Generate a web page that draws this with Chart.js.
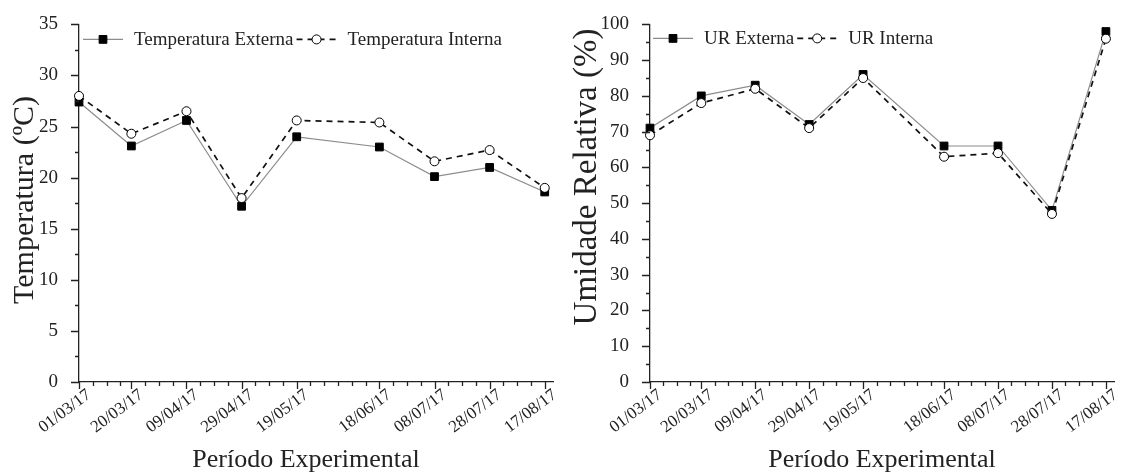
<!DOCTYPE html>
<html>
<head>
<meta charset="utf-8">
<script src="https://cdn.jsdelivr.net/npm/chart.js@4.4.0/dist/chart.umd.min.js"></script>
<style>
    body { margin: 0; background: #fff; width: 1122px; height: 472px; overflow: hidden; display: flex; }
    .painel { width: 561px; height: 472px; }
</style>
</head>
<body>
<div class="painel"><canvas id="graficoTemp" width="561" height="472"></canvas></div>
<div class="painel"><canvas id="graficoUR" width="561" height="472"></canvas></div>
<script>
// datas de coleta e dias contados a partir de 01/03/17
const datas = ['01/03/17', '20/03/17', '09/04/17', '29/04/17', '19/05/17', '18/06/17', '08/07/17', '28/07/17', '17/08/17'];
const dias = [0, 19, 39, 59, 79, 109, 129, 149, 169];

const tempExterna = [27.4, 23.1, 25.6, 17.2, 24.0, 23.0, 20.1, 21.0, 18.6];
const tempInterna = [28.0, 24.3, 26.5, 18.0, 25.6, 25.4, 21.6, 22.7, 19.0];

const urExterna = [71, 80, 83, 72, 86, 66, 66, 48, 98];
const urInterna = [69, 78, 82, 71, 85, 63, 64, 47, 96];

const fonteSerif = "'Liberation Serif', 'Times New Roman', serif";
Chart.defaults.font.family = fonteSerif;
Chart.defaults.color = '#222';

const corEixo = '#222';

// marcas menores do eixo x: a cada 5 dias entre duas coletas
const marcasMenoresX = [];
for (let i = 0; i < dias.length - 1; i++) {
    for (let d = dias[i] + 5; d < dias[i + 1]; d += 5) marcasMenoresX.push(d);
}

// desenha as marcas (maiores e menores) para fora dos eixos
const marcasEixos = {
    id: 'marcasEixos',
    afterDraw(chart) {
        const { ctx, scales: { x, y } } = chart;
        ctx.save();
        ctx.strokeStyle = corEixo;
        ctx.lineWidth = 1.3;
        ctx.beginPath();
        const base = y.getPixelForValue(y.min);
        dias.forEach(d => {
            const px = Math.round(x.getPixelForValue(d)) + 0.5;
            ctx.moveTo(px, base); ctx.lineTo(px, base + 7);
        });
        marcasMenoresX.forEach(d => {
            const px = Math.round(x.getPixelForValue(d)) + 0.5;
            ctx.moveTo(px, base); ctx.lineTo(px, base + 4);
        });
        const esq = x.left;
        const valores = y.ticks.map(t => t.value);
        valores.forEach((v, i) => {
            const py = Math.round(y.getPixelForValue(v)) + 0.5;
            ctx.moveTo(esq, py); ctx.lineTo(esq - 8, py);
            if (i < valores.length - 1) {
                const pm = Math.round(y.getPixelForValue((v + valores[i + 1]) / 2)) + 0.5;
                ctx.moveTo(esq, pm); ctx.lineTo(esq - 4, pm);
            }
        });
        ctx.stroke();
        ctx.restore();
    }
};

// títulos dos eixos em posição livre
const titulosEixos = {
    id: 'titulosEixos',
    afterDraw(chart, args, opts) {
        const ctx = chart.ctx;
        ctx.save();
        ctx.fillStyle = '#222';
        ctx.textAlign = 'center';
        ctx.textBaseline = 'middle';
        ctx.font = opts.tamX + 'px ' + fonteSerif;
        ctx.fillText(opts.textoX, opts.xX, opts.yX);
        ctx.translate(opts.xY, opts.yY);
        ctx.rotate(-Math.PI / 2);
        ctx.font = opts.tamY + 'px ' + fonteSerif;
        ctx.fillText(opts.textoY, 0, 0);
        ctx.restore();
    }
};

// legenda em linha: traço + marcador + texto, dentro da área do gráfico
const legendaLinha = {
    id: 'legendaLinha',
    afterDraw(chart, args, opts) {
        const ctx = chart.ctx;
        let x = chart.chartArea.left + opts.offsetX;
        const y = chart.chartArea.top + opts.offsetY;
        ctx.save();
        ctx.font = '19px ' + fonteSerif;
        ctx.textBaseline = 'middle';
        chart.data.datasets.forEach(ds => {
            ctx.strokeStyle = ds.borderColor;
            ctx.lineWidth = ds.borderWidth;
            ctx.setLineDash(ds.borderDash || []);
            ctx.beginPath();
            ctx.moveTo(x, y);
            ctx.lineTo(x + opts.traco, y);
            ctx.stroke();
            ctx.setLineDash([]);
            ctx.fillStyle = ds.pointBackgroundColor;
            ctx.strokeStyle = ds.pointBorderColor;
            ctx.lineWidth = ds.pointBorderWidth;
            Chart.helpers.drawPoint(ctx, {
                pointStyle: ds.pointStyle, radius: ds.pointRadius,
                borderWidth: ds.pointBorderWidth, rotation: 0
            }, x + opts.traco / 2, y);
            ctx.fillStyle = '#222';
            const tx = x + opts.traco + opts.espaco;
            ctx.fillText(ds.label, tx, y + 1);
            x = tx + ctx.measureText(ds.label).width + 3;
        });
        ctx.restore();
    }
};

function series(rotulos, externa, interna) {
    return [
        {
            label: rotulos[0],
            data: dias.map((d, i) => ({ x: d, y: externa[i] })),
            borderColor: '#8c8c8c',
            borderWidth: 1.2,
            pointStyle: 'rect',
            pointRadius: 5.5,
            pointBackgroundColor: '#000',
            pointBorderColor: '#000',
            pointBorderWidth: 1,
            order: 1,
            clip: false
        },
        {
            label: rotulos[1],
            data: dias.map((d, i) => ({ x: d, y: interna[i] })),
            borderColor: '#111',
            borderWidth: 1.7,
            borderDash: [6, 5],
            pointStyle: 'circle',
            pointRadius: 4.5,
            pointBackgroundColor: '#fff',
            pointBorderColor: '#000',
            pointBorderWidth: 1,
            order: 0,
            clip: false
        }
    ];
}

function criarGrafico(id, datasets, cfg) {
    return new Chart(document.getElementById(id), {
        type: 'line',
        data: { datasets },
        options: {
            responsive: false,
            animation: false,
            devicePixelRatio: 1,
            layout: { padding: { top: cfg.topo, right: 0, bottom: 0, left: 0 } },
            plugins: {
                legend: { display: false },
                tooltip: { enabled: false },
                legendaLinha: { offsetX: cfg.legX, offsetY: cfg.legY, traco: 40, espaco: 11 },
                titulosEixos: cfg.titulos
            },
            scales: {
                x: {
                    type: 'linear',
                    min: 0,
                    max: 172,
                    afterBuildTicks: s => { s.ticks = dias.map(v => ({ value: v })); },
                    grid: { display: false },
                    border: { display: true, color: corEixo, width: 1.3 },
                    ticks: {
                        callback: (v, i) => datas[i],
                        autoSkip: false,
                        minRotation: 37,
                        maxRotation: 37,
                        padding: -5,
                        labelOffset: 10,
                        font: { size: 17 }
                    },
                    afterFit: s => { s.height = 90; s.paddingLeft = 0; s.paddingRight = 8; }
                },
                y: {
                    min: 0,
                    max: cfg.max,
                    grid: { display: false },
                    border: { display: true, color: corEixo, width: 1.3 },
                    ticks: { stepSize: cfg.passo, padding: 13, font: { size: 19 } },
                    afterFit: s => { s.width = cfg.larguraY; }
                }
            }
        },
        plugins: [marcasEixos, legendaLinha, titulosEixos]
    });
}

criarGrafico('graficoTemp',
    series(['Temperatura Externa', 'Temperatura Interna'], tempExterna, tempInterna),
    {
        max: 35, passo: 5, larguraY: 79, topo: 21, legX: 4, legY: 15,
        titulos: { textoX: 'Período Experimental', tamX: 26, xX: 306, yX: 460,
                   textoY: 'Temperatura (ºC)', tamY: 30, xY: 25, yY: 200 }
    });

criarGrafico('graficoUR',
    series(['UR Externa', 'UR Interna'], urExterna, urInterna),
    {
        max: 100, passo: 10, larguraY: 89, topo: 20, legX: 3, legY: 14,
        titulos: { textoX: 'Período Experimental', tamX: 26, xX: 321, yX: 460,
                   textoY: 'Umidade Relativa (%)', tamY: 33, xY: 26, yY: 177 }
    });
</script>
</body>
</html>
